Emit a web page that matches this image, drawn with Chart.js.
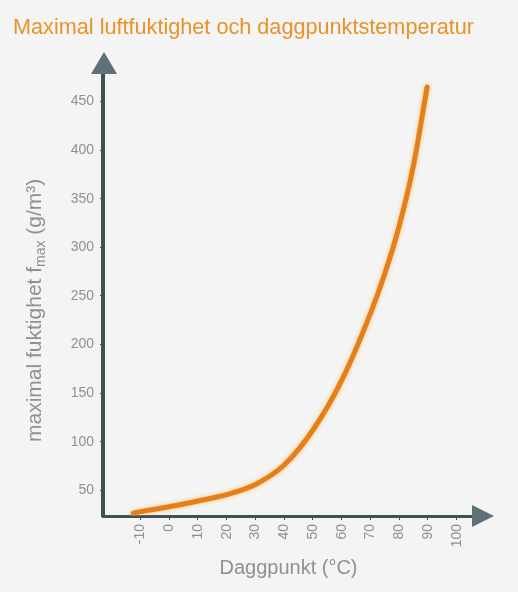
<!DOCTYPE html>
<html>
<head>
<meta charset="utf-8">
<script src="https://cdn.jsdelivr.net/npm/chart.js@4/dist/chart.umd.min.js"></script>
<style>
  html, body { margin: 0; padding: 0; background: #f4f4f4; }
  #wrap { width: 518px; height: 592px; }
</style>
</head>
<body>
<div id="wrap"><canvas id="c" width="518" height="592"></canvas></div>
<script>
// Data
const dewPoints = [-12.5, -10, 0, 10, 20, 30, 40, 50, 60, 70, 75, 80, 85, 89.7];
const maxHumidity = [26.5, 28, 33, 39, 45.5, 56, 76, 112, 163, 232, 273, 322, 385, 465];
const xTickValues = [-10, 0, 10, 20, 30, 40, 50, 60, 70, 80, 90, 100];
const yTickValues = [50, 100, 150, 200, 250, 300, 350, 400, 450];

const titleText = 'Maximal luftfuktighet och daggpunktstemperatur';
const xTitleText = 'Daggpunkt (°C)';
const yTitleParts = ['maximal fuktighet f', 'max', ' (g/m³)'];

const FONT = '"Liberation Sans", Arial, Helvetica, sans-serif';
const AXIS = '#3e5256';
const ARROW = '#5d7177';
const LABEL = '#8c9195';

const arrowsAndYTitle = {
  id: 'arrowsAndYTitle',
  afterDraw(chart) {
    const ctx = chart.ctx;
    const area = chart.chartArea;
    const xs = chart.scales.x, ys = chart.scales.y;
    const ax = xs.left + 1; // y axis x
    const ay = ys.bottom;   // x axis y
    ctx.save();
    ctx.fillStyle = ARROW;
    // y arrow head
    ctx.beginPath();
    ctx.moveTo(ax, area.top - 21);
    ctx.lineTo(ax - 13, area.top + 1);
    ctx.lineTo(ax + 13, area.top + 1);
    ctx.closePath();
    ctx.fill();
    // x arrow head
    ctx.beginPath();
    ctx.moveTo(area.right + 20, ay);
    ctx.lineTo(area.right - 2, ay - 11);
    ctx.lineTo(area.right - 2, ay + 11);
    ctx.closePath();
    ctx.fill();
    // y axis title with subscript
    ctx.translate(41, 442);
    ctx.rotate(-Math.PI / 2);
    ctx.fillStyle = LABEL;
    ctx.textBaseline = 'alphabetic';
    ctx.textAlign = 'left';
    let x = 0;
    ctx.font = '21px ' + FONT;
    ctx.fillText(yTitleParts[0], x, 0);
    x += ctx.measureText(yTitleParts[0]).width;
    ctx.font = '14px ' + FONT;
    ctx.fillText(yTitleParts[1], x, 4);
    x += ctx.measureText(yTitleParts[1]).width;
    ctx.font = '21px ' + FONT;
    ctx.fillText(yTitleParts[2], x, 0);
    ctx.restore();
  }
};

const glow = {
  id: 'glow',
  beforeDatasetDraw(chart) {
    chart.ctx.save();
    chart.ctx.shadowColor = 'rgba(255,190,90,0.9)';
    chart.ctx.shadowBlur = 4;
  },
  afterDatasetDraw(chart) {
    chart.ctx.restore();
  }
};

new Chart(document.getElementById('c'), {
  type: 'line',
  data: {
    datasets: [{
      data: dewPoints.map((d, i) => ({ x: d, y: maxHumidity[i] })),
      borderColor: '#e47f1e',
      borderWidth: 5,
      pointRadius: 0,
      fill: false,
      cubicInterpolationMode: 'monotone',
      borderCapStyle: 'round'
    }]
  },
  options: {
    responsive: false,
    animation: false,
    layout: { padding: { left: 13, right: 44, top: 0, bottom: 0 } },
    plugins: {
      legend: { display: false },
      tooltip: { enabled: false },
      title: {
        display: true,
        text: titleText,
        align: 'start',
        color: '#e8922a',
        font: { family: FONT, size: 22.4, weight: 'normal' },
        padding: { top: 14, bottom: 32 }
      }
    },
    scales: {
      x: {
        type: 'linear',
        min: -23,
        max: 106,
        afterBuildTicks: s => { s.ticks = xTickValues.map(v => ({ value: v })); },
        afterFit: s => { s.height = 76; },
        border: { display: true, color: AXIS, width: 3 },
        grid: { display: true, drawOnChartArea: false, drawTicks: true, tickLength: 4, color: AXIS, tickWidth: 1 },
        ticks: {
          autoSkip: false,
          minRotation: 90,
          maxRotation: 90,
          padding: 4,
          color: LABEL,
          font: { family: FONT, size: 14 }
        },
        title: {
          display: true,
          text: xTitleText,
          color: LABEL,
          font: { family: FONT, size: 20 },
          padding: { top: 0, bottom: 12 }
        }
      },
      y: {
        type: 'linear',
        min: 23.5,
        max: 479.5,
        afterBuildTicks: s => { s.ticks = yTickValues.map(v => ({ value: v })); },
        afterFit: s => { s.width = 90; },
        border: { display: true, color: AXIS, width: 4 },
        grid: { display: true, drawOnChartArea: false, drawTicks: true, tickLength: 3, color: AXIS, tickWidth: 1 },
        ticks: {
          padding: 6,
          color: LABEL,
          font: { family: FONT, size: 14 }
        }
      }
    }
  },
  plugins: [glow, arrowsAndYTitle]
});
</script>
</body>
</html>
